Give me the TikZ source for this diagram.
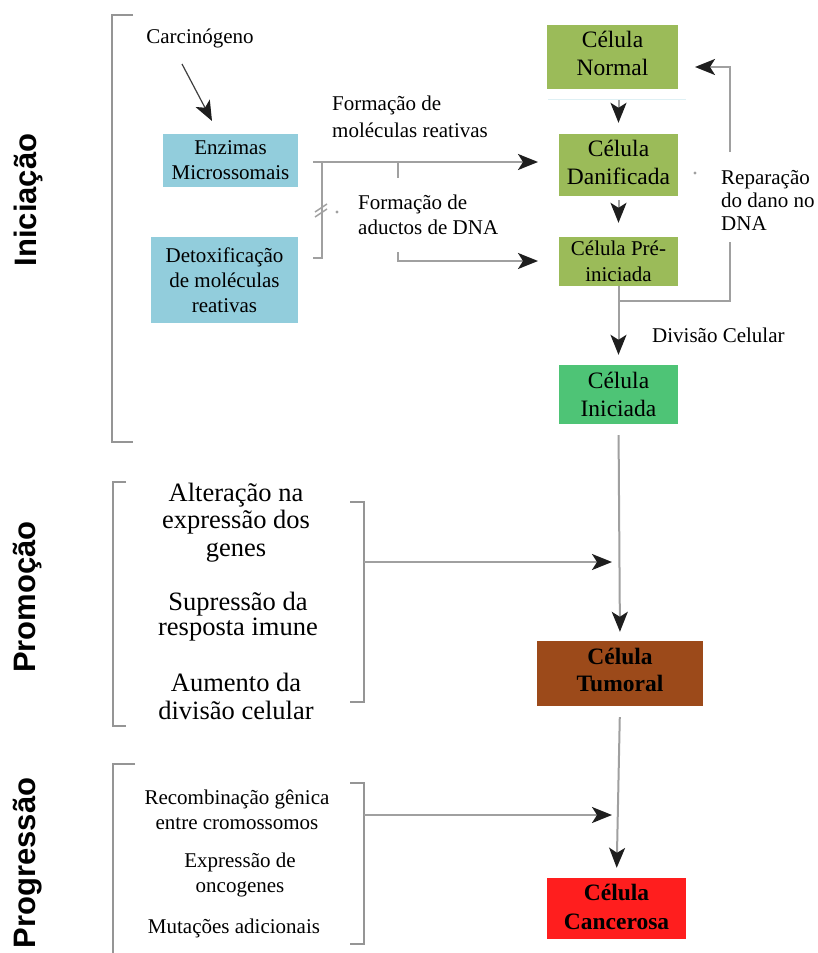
\documentclass[tikz,border=0pt]{standalone}
\usepackage{fontspec}
\setmainfont{Liberation Serif}
\newfontfamily\sidefont{Liberation Sans}
\usetikzlibrary{arrows.meta,calc}
\definecolor{cOlive}{HTML}{9BBB59}
\definecolor{cGreen}{HTML}{4EC476}
\definecolor{cCyan}{HTML}{92CDDC}
\definecolor{cBrown}{HTML}{9C4A1A}
\definecolor{cRed}{HTML}{FF1E1E}
\definecolor{cLine}{HTML}{A0A0A0}
\definecolor{cBrk}{HTML}{959595}
\definecolor{cTip}{HTML}{1E1E1E}
\newcommand\fsz[2]{\fontsize{#1}{#2}\selectfont}
\tikzset{
  cellbox/.style={inner sep=0pt, align=center, text=black},
  txt/.style={inner sep=0pt, align=center, text=black},
  txtl/.style={inner sep=0pt, align=left, anchor=west, text=black},
  ln/.style={draw=cLine, line width=2pt},
  tipk/.style={arrows={-Stealth[length=20pt,width=16pt,inset=5pt,color=cTip]}},
  arr/.style={ln, tipk},
  brk/.style={draw=cBrk, line width=1.6pt},
  side/.style={inner sep=0pt, rotate=90, font=\sidefont\bfseries\fsz{31}{35}},
}
\begin{document}
\begin{tikzpicture}[x=1pt,y=-1pt]
\useasboundingbox (0,0) rectangle (818,953);
\fill[white] (0,0) rectangle (818,953);

% side labels
\node[side] (ini) at (28,200) {Iniciação};
\node[side] (pro) at (28,597) {Promoção};
\node[side] (prg) at (28,863) {Progressão};

% left brackets
\draw[brk] (133,15) -- (112,15) -- (112,442) -- (133,442);
\draw[brk] (126,482) -- (113,482) -- (113,726) -- (126,726);
\draw[brk] (135,764) -- (113,764) -- (113,955);

% boxes
\node[cellbox, fill=cOlive, minimum width=131pt, minimum height=64pt, text depth=7pt, font=\fsz{23.5}{28}] (normal) at (612.5,57) {Célula\\Normal};
\node[cellbox, fill=cOlive, minimum width=119pt, minimum height=62pt, text depth=5pt, font=\fsz{23.5}{27.5}] (danif) at (618.5,165) {Célula\\Danificada};
\node[cellbox, fill=cOlive, minimum width=119pt, minimum height=49pt, font=\fsz{21}{26}] (pre) at (618.5,261.5) {Célula Pré-\\iniciada};
\node[cellbox, fill=cGreen, minimum width=119pt, minimum height=59pt, font=\fsz{23.5}{27.5}] (inic) at (618.5,394.5) {Célula\\Iniciada};
\node[cellbox, fill=cCyan, minimum width=135pt, minimum height=53pt, font=\fsz{21}{25}] (enz) at (230.5,160.5) {Enzimas\\Microssomais};
\node[cellbox, fill=cCyan, minimum width=147pt, minimum height=86pt, font=\fsz{21}{25}] (detox) at (224.5,280) {Detoxificação\\de moléculas\\reativas};
\node[cellbox, fill=cBrown, minimum width=166pt, minimum height=65pt, text depth=7pt, font=\bfseries\fsz{23.5}{27}] (tumor) at (620,673.5) {Célula\\Tumoral};
\node[cellbox, fill=cRed, minimum width=139pt, minimum height=61pt, text depth=3pt, font=\bfseries\fsz{23.5}{28.5}] (cancer) at (616.5,908.5) {Célula\\Cancerosa};

% faint line under normal
\draw[draw=cCyan!30, line width=1pt] (548,99) -- (686,99);

% text labels
\node[txt, font=\fsz{21}{25}] (carc) at (200,38) {Carcinógeno};
\node[txtl, font=\fsz{21}{27}] (fm1) at (332,116.5) {Formação de\\moléculas reativas};
\node[txtl, font=\fsz{21}{25}] (fm2) at (358,214.5) {Formação de\\aductos de DNA};
\node[txtl, font=\fsz{21}{23}] (rep) at (721,200) {Reparação\\do dano no\\DNA};
\node[txtl, font=\fsz{21}{25}] (div) at (652,335) {Divisão Celular};
\node[txt, font=\fsz{26.5}{27.5}] (pr1) at (236,522.5) {Alteração na\\expressão dos\\genes};
\node[txt, font=\fsz{26.5}{25}] (pr2) at (238,616.5) {Supressão da\\resposta imune};
\node[txt, font=\fsz{26.5}{28}] (pr3) at (236,696) {Aumento da\\divisão celular};
\node[txt, font=\fsz{21}{25}] (pg1) at (237,809.5) {Recombinação gênica\\entre cromossomos};
\node[txt, font=\fsz{21}{25}] (pg2) at (240,874.5) {Expressão de\\oncogenes};
\node[txt, font=\fsz{21}{25}] (pg3) at (234,928) {Mutações adicionais};

% carcinogen arrow
\coordinate (c1) at (182,64);
\coordinate (c2) at (212,121);
\draw[draw=black!75, line width=1.2pt, tipk] (c1) -- (c2);

% main vertical chain
\draw[arr, shorten <=11pt, shorten >=11pt] (normal.south -| danif.north) -- (danif.north);
\draw[arr, shorten <=4pt, shorten >=14pt] (danif.south) -- (pre.north);
\draw[arr, shorten >=10pt] (pre.south) -- (inic.north);
\draw[arr, shorten <=11pt, shorten >=9pt] (inic.south) -- (tumor.north);
\draw[arr, shorten <=11pt, shorten >=10pt] (tumor.south) -- (cancer.north);

% repair loop
\coordinate (r0) at (618.5,301);
\coordinate (r1) at (730,301);
\coordinate (r2) at (730,242);
\coordinate (r3) at (730,152);
\coordinate (r4) at (730,67);
\coordinate (r5) at (695,67);
\draw[ln] (r0) -- (r1) -- (r2);
\draw[arr] (r3) -- (r4) -- (r5);

% enzymes branch
\coordinate (e0) at (313,162);
\coordinate (e1) at (538,162);
\coordinate (e2) at (322,162);
\coordinate (e3) at (322,258);
\coordinate (e4) at (313,258);
\coordinate (t0) at (398,162);
\coordinate (t1) at (398,178);
\coordinate (b0) at (398,252);
\coordinate (b1) at (398,261);
\coordinate (b2) at (538,261);
\draw[arr] (e0) -- (e1);
\draw[ln] (e2) -- (e3) -- (e4);
\draw[ln] (t0) -- (t1);
\draw[arr] (b0) -- (b1) -- (b2);
% break mark
\coordinate (s1a) at (315,212);
\coordinate (s1b) at (327,204);
\coordinate (s2a) at (315,217);
\coordinate (s2b) at (327,209);
\draw[draw=cLine, line width=1.4pt] (s1a) -- (s1b);
\draw[draw=cLine, line width=1.4pt] (s2a) -- (s2b);

% small dots
\fill[cLine] (337,212) circle (1.6pt);
\fill[cLine] (695,173) circle (1.6pt);

% promotion bracket
\draw[brk] (350,502) -- (364,502) -- (364,702) -- (350,702);
\coordinate (p0) at (364,562);
\coordinate (p1) at (612,562);
\draw[arr] (p0) -- (p1);

% progression bracket
\draw[brk] (350,783) -- (364,783) -- (364,944) -- (350,944);
\coordinate (g0) at (364,815);
\coordinate (g1) at (612,815);
\draw[arr] (g0) -- (g1);
\end{tikzpicture}
\end{document}
